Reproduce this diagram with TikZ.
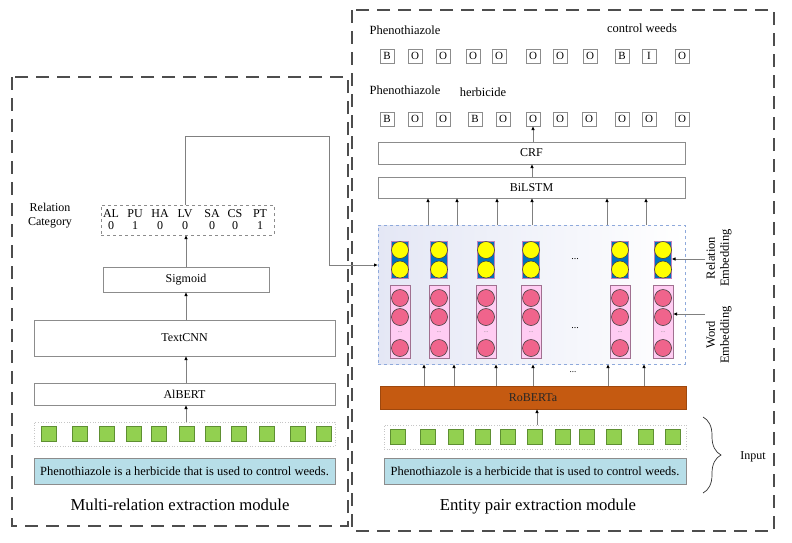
\documentclass[tikz,border=0pt]{standalone}
\usepackage{fontspec}
\setmainfont{Liberation Serif}
\usetikzlibrary{arrows.meta,decorations.pathreplacing}
\definecolor{frame}{HTML}{4D4D4D}
\definecolor{boxline}{HTML}{8C8C8C}
\definecolor{sqgreen}{HTML}{92D050}
\definecolor{sqgreenline}{HTML}{5E8F32}
\definecolor{sentblue}{HTML}{B7DEE8}
\definecolor{roberta}{HTML}{C55A11}
\definecolor{relblue}{HTML}{0070C0}
\definecolor{yel}{HTML}{FFFF00}
\definecolor{pinkbg}{HTML}{FFCCF2}
\definecolor{pinkline}{HTML}{A07090}
\definecolor{pinkc}{HTML}{F0648C}
\definecolor{embline}{HTML}{8EA9DB}
\definecolor{embfill}{HTML}{E4E7F5}
\begin{document}
\begin{tikzpicture}[x=1pt,y=-1pt,
  every node/.style={inner sep=0pt, outer sep=0pt},
  box/.style={draw=boxline, line width=0.8pt, fill=white, font=\fontsize{12}{14}\selectfont},
  tag/.style={draw=boxline, line width=0.7pt, minimum width=14pt, minimum height=14pt, font=\fontsize{11}{13}\selectfont},
  lbl/.style={font=\fontsize{12.5}{15}\selectfont},
  rc/.style={font=\fontsize{12}{14}\selectfont},
  modlbl/.style={font=\fontsize{16.7}{20}\selectfont},
  arr/.style={draw=gray, line width=0.8pt, -{Latex[length=4pt,width=3.5pt,color=black]}},
  framebox/.style={draw=frame, line width=1.4pt, dash pattern=on 13pt off 8pt},
  sq/.style={draw=sqgreenline, line width=0.6pt, fill=sqgreen, minimum width=15pt, minimum height=15pt},
  sqrow/.style={draw=gray!45, dotted, line width=0.6pt},
  sent/.style={draw=boxline, line width=0.8pt, fill=sentblue, font=\fontsize{12.5}{15}\selectfont},
  relrect/.style={draw=violet!50, line width=0.6pt, fill=relblue, minimum width=17pt, minimum height=37pt},
  ycirc/.style={circle, draw=gray!50!black, line width=0.6pt, fill=yel, minimum size=17pt},
  pinkrect/.style={draw=pinkline, line width=0.6pt, fill=pinkbg, minimum width=20pt, minimum height=73pt},
  pcirc/.style={circle, draw=gray!50!black, line width=0.6pt, fill=pinkc, minimum size=17pt},
  tinydots/.style={font=\fontsize{6}{6}\selectfont, text=gray}
]
\useasboundingbox (0,0) rectangle (792,542);

% module frames
\draw[framebox] (12,77) rectangle (348,526);
\draw[framebox] (352,10) rectangle (774,531);

% ---------------- right module ----------------
\node[lbl, anchor=center] (ph1) at (405,30) {Phenothiazole};
\node[lbl] (cw) at (642,28) {control weeds};
\node[lbl] (ph2) at (405,90) {Phenothiazole};
\node[lbl] (hb) at (483,92) {herbicide};

\foreach \x/\t [count=\i] in {387/B,415/O,443/O,473/O,499/O,533/O,560/O,590/O,622/B,649/I,682/O}
  \node[tag] (tA\i) at (\x,56) {\t};
\foreach \x/\t [count=\i] in {387/B,415/O,443/O,475/B,503/O,533/O,560/O,589/O,622/O,649/O,682/O}
  \node[tag] (tB\i) at (\x,119) {\t};

\node[box, minimum width=307pt, minimum height=22pt] (crf) at (531.5,153) {CRF};
\node[box, minimum width=307pt, minimum height=21pt] (bilstm) at (531.5,187.5) {BiLSTM};
\draw[arr] (crf.north -| tB6.south) -- (tB6.south);
\draw[arr] (bilstm.north -| 532,0) -- (crf.south -| 532,0);

\node[draw=embline, dashed, line width=0.7pt, left color=embfill, right color=white,
      minimum width=307pt, minimum height=139pt] (emb) at (531.5,294.5) {};

\foreach \x in {428,457,497,532,607,646}
  \draw[arr] (emb.north -| \x,0) -- (bilstm.south -| \x,0);

\foreach \x [count=\i] in {400,439,486,531,620,663} {
  \node[relrect] (rel\i) at (\x,259.5) {};
  \node[ycirc] (rya\i) at (\x,250) {};
  \node[ycirc] (ryb\i) at (\x,269.5) {};
  \node[pinkrect] (wr\i) at (\x,321.5) {};
  \node[pcirc] (pa\i) at (\x,298) {};
  \node[pcirc] (pb\i) at (\x,317) {};
  \node[tinydots] (pd\i) at (\x,332) {...};
  \node[pcirc] (pc\i) at (\x,348) {};
}
\node[font=\fontsize{10}{10}\selectfont] (rdots) at (575,259) {...};
\node[font=\fontsize{10}{10}\selectfont] (wdots) at (575,328) {...};

\node[font=\fontsize{12.5}{14}\selectfont, align=center, rotate=90] (relemb) at (719,258) {Relation\\Embedding};
\node[font=\fontsize{12.5}{14}\selectfont, align=center, rotate=90] (wordemb) at (719,335) {Word\\Embedding};
\coordinate (relembfrom) at (705,259);
\coordinate (wordembfrom) at (705,314);
\draw[arr] (relembfrom) -- (rel6.east |- relembfrom);
\draw[arr] (wordembfrom) -- (wr6.east |- wordembfrom);

\node[box, fill=roberta, draw=roberta!80!black, minimum width=306pt, minimum height=23pt, text=black!85] (roberta) at (533,397.5) {RoBERTa};
\foreach \x in {424,454,496,533,608,644}
  \draw[arr] (roberta.north -| \x,0) -- (emb.south -| \x,0);
\node[font=\fontsize{9}{9}\selectfont] (bdots) at (573,372) {...};

\node[sqrow, minimum width=302pt, minimum height=24pt] (rrow) at (535,437) {};
\foreach \x [count=\i] in {398,428,456,483,508,535,563,587,614,646,673}
  \node[sq] (rs\i) at (\x,437) {};
\draw[arr] (rrow.north -| 537,0) -- (roberta.south -| 537,0);

\node[sent, minimum width=302pt, minimum height=26pt] (rsent) at (535,471) {Phenothiazole is a herbicide that is used to control weeds.};

\draw[draw=black!80, line width=0.7pt, decorate, decoration={brace, amplitude=18pt}] (703,417) -- (703,493);
\node[rc] (input) at (753,457) {Input};

\node[modlbl] (rmod) at (538,506) {Entity pair extraction module};

% ---------------- left module ----------------
\node[sent, minimum width=301pt, minimum height=26pt] (lsent) at (184.5,471) {Phenothiazole is a herbicide that is used to control weeds.};
\node[sqrow, minimum width=301pt, minimum height=24pt] (lrow) at (184.5,434) {};
\foreach \x [count=\i] in {49,80,107,134,159,187,213,239,267,298,324}
  \node[sq] (ls\i) at (\x,434) {};

\node[box, minimum width=301pt, minimum height=22pt] (albert) at (184.5,394) {AlBERT};
\node[box, minimum width=301pt, minimum height=36pt] (textcnn) at (184.5,338) {TextCNN};
\node[box, minimum width=166pt, minimum height=25pt] (sigmoid) at (186,279.5) {Sigmoid};
\node[draw=boxline, dashed, line width=0.7pt, minimum width=173pt, minimum height=30pt] (relcat) at (187.5,220) {};

\foreach \x/\a/\b [count=\i] in {111/AL/0,135/PU/1,160/HA/0,185/LV/0,212/SA/0,235/CS/0,260/PT/1} {
  \node[rc] (rca\i) at (\x,213.5) {\a};
  \node[rc] (rcb\i) at (\x,226) {\b};
}
\node[rc, align=center] (rclbl) at (50,215.5) {Relation\\Category};

\draw[arr] (lrow.north -| 186,0) -- (albert.south -| 186,0);
\draw[arr] (albert.north -| 186,0) -- (textcnn.south -| 186,0);
\draw[arr] (textcnn.north -| 186,0) -- (sigmoid.south -| 186,0);
\draw[arr] (sigmoid.north -| 186,0) -- (relcat.south -| 186,0);

\node[modlbl] (lmod) at (180,505) {Multi-relation extraction module};

% relation connector
\coordinate (bendA) at (329,136);
\draw[arr] (relcat.north -| 185,0) |- (bendA) |- ([yshift=29.5pt]emb.west);
\end{tikzpicture}
\end{document}
